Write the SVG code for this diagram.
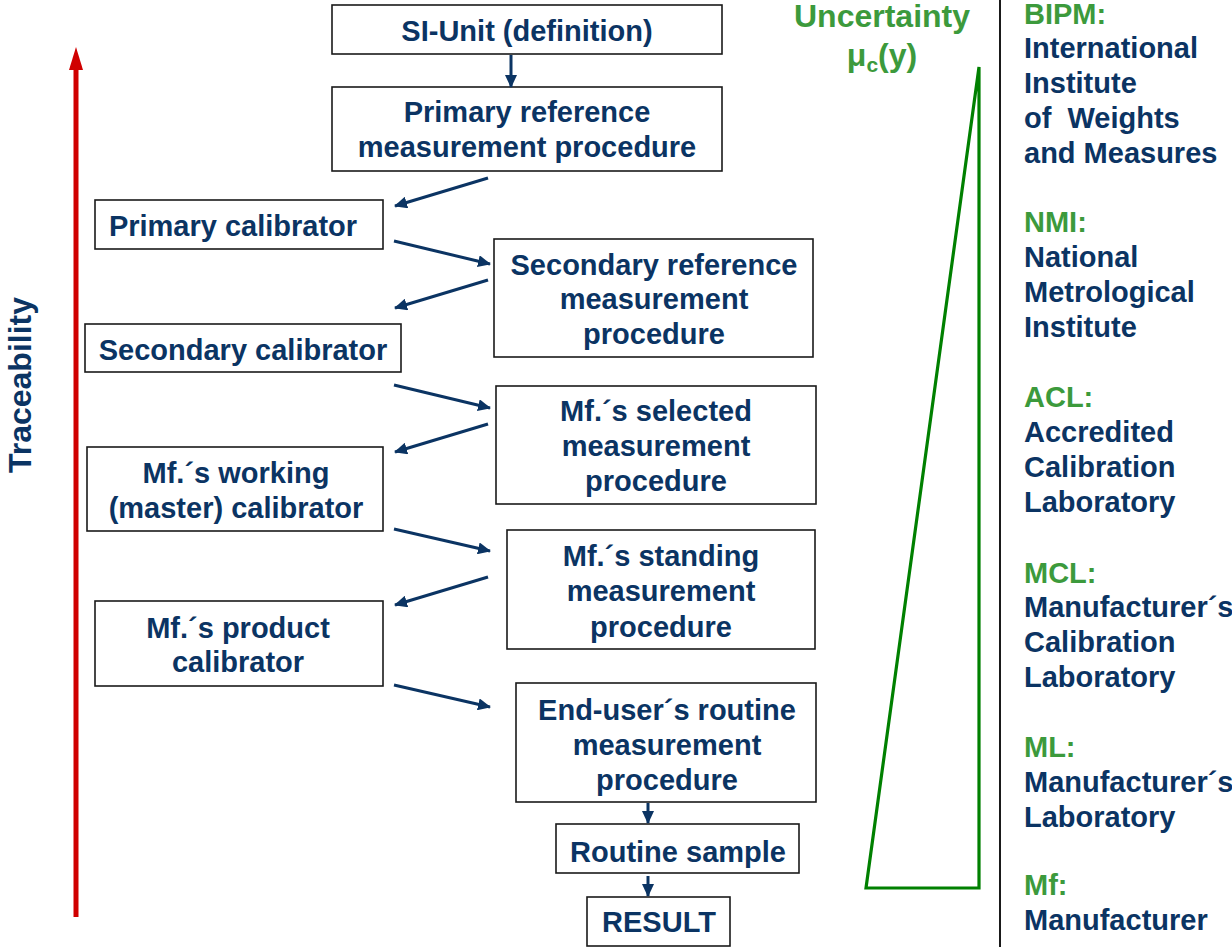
<svg xmlns="http://www.w3.org/2000/svg" width="1232" height="947" viewBox="0 0 1232 947">
<style>
.box{fill:#fff;stroke:#1a1a1a;stroke-width:1.6}
.t{font-family:"Liberation Sans",Arial,sans-serif;font-weight:bold;font-size:29px;fill:#0b3463;text-anchor:middle}
.r{font-family:"Liberation Sans",Arial,sans-serif;font-weight:bold;font-size:29px;fill:#0b3463}
.g{fill:#3c9a3c}
.c{stroke:#0b3463;stroke-width:3;fill:none;marker-end:url(#ah)}
</style>
<defs>
<marker id="ah" markerUnits="userSpaceOnUse" markerWidth="14" markerHeight="12" refX="12" refY="6" orient="auto">
<path d="M0,0 L13,6 L0,12 Z" fill="#0b3463"/>
</marker>
</defs>
<rect width="1232" height="947" fill="#fff"/>

<g id="traceability">
<line x1="76" y1="917" x2="76" y2="66" stroke="#d00000" stroke-width="5"/>
<polygon points="76,47 69,70 83,70" fill="#d00000"/>
<text transform="translate(31,385) rotate(-90)" class="t" style="font-size:32px">Traceability</text>
</g>

<g id="n-si"><rect class="box" x="332" y="5" width="390" height="49"/><text class="t" x="527" y="41">SI-Unit (definition)</text></g>
<g id="n-prm"><rect class="box" x="332" y="87" width="390" height="84"/><text class="t" x="527" y="122">Primary reference</text><text class="t" x="527" y="157">measurement procedure</text></g>
<g id="n-pcal"><rect class="box" x="95" y="200" width="288" height="49"/><text class="t" x="233" y="236">Primary calibrator</text></g>
<g id="n-srm"><rect class="box" x="494" y="239" width="319" height="118"/><text class="t" x="654" y="275">Secondary reference</text><text class="t" x="654" y="309">measurement</text><text class="t" x="654" y="344">procedure</text></g>
<g id="n-scal"><rect class="box" x="85" y="324" width="316" height="48"/><text class="t" x="243" y="360">Secondary calibrator</text></g>
<g id="n-sel"><rect class="box" x="496" y="386" width="320" height="118"/><text class="t" x="656" y="421">Mf.´s selected</text><text class="t" x="656" y="456">measurement</text><text class="t" x="656" y="491">procedure</text></g>
<g id="n-work"><rect class="box" x="87" y="447" width="296" height="84"/><text class="t" x="236" y="483">Mf.´s working</text><text class="t" x="236" y="518">(master) calibrator</text></g>
<g id="n-stand"><rect class="box" x="507" y="530" width="308" height="119"/><text class="t" x="661" y="566">Mf.´s standing</text><text class="t" x="661" y="601">measurement</text><text class="t" x="661" y="637">procedure</text></g>
<g id="n-prod"><rect class="box" x="95" y="601" width="288" height="85"/><text class="t" x="238" y="638">Mf.´s product</text><text class="t" x="238" y="672">calibrator</text></g>
<g id="n-end"><rect class="box" x="516" y="683" width="300" height="119"/><text class="t" x="667" y="720">End-user´s routine</text><text class="t" x="667" y="755">measurement</text><text class="t" x="667" y="790">procedure</text></g>
<g id="n-rs"><rect class="box" x="556" y="824" width="243" height="49"/><text class="t" x="678" y="862">Routine sample</text></g>
<g id="n-res"><rect class="box" x="587" y="897" width="143" height="49"/><text class="t" x="659" y="932">RESULT</text></g>

<g id="connectors">
<line class="c" x1="511" y1="55" x2="511" y2="87"/>
<line class="c" x1="488" y1="178" x2="395" y2="206"/>
<line class="c" x1="394" y1="241" x2="490" y2="264"/>
<line class="c" x1="488" y1="280" x2="395" y2="308"/>
<line class="c" x1="394" y1="385" x2="490" y2="408"/>
<line class="c" x1="488" y1="424" x2="395" y2="452"/>
<line class="c" x1="394" y1="529" x2="490" y2="551"/>
<line class="c" x1="488" y1="577" x2="395" y2="605"/>
<line class="c" x1="394" y1="685" x2="490" y2="707"/>
<line class="c" x1="648" y1="803" x2="648" y2="823"/>
<line class="c" x1="648" y1="876" x2="648" y2="896"/>
</g>

<g id="uncertainty">
<text class="t g" x="882" y="27" style="font-size:32px">Uncertainty</text>
<text class="t g" x="882" y="66" style="font-size:32px">μ<tspan dy="6" style="font-size:21px">c</tspan><tspan dy="-6">(y)</tspan></text>
<polygon points="979,67 979,888 866,888" fill="none" stroke="#008000" stroke-width="3.2" stroke-linejoin="miter"/>
</g>

<line id="divider" x1="1000" y1="0" x2="1000" y2="947" stroke="#1a1a1a" stroke-width="2"/>

<g id="legend">
<text class="r g" x="1024" y="24">BIPM:</text>
<text class="r" x="1024" y="58">International</text>
<text class="r" x="1024" y="93">Institute</text>
<text class="r" x="1024" y="128" xml:space="preserve">of  Weights</text>
<text class="r" x="1024" y="163">and Measures</text>
<text class="r g" x="1024" y="232">NMI:</text>
<text class="r" x="1024" y="267">National</text>
<text class="r" x="1024" y="302">Metrological</text>
<text class="r" x="1024" y="337">Institute</text>
<text class="r g" x="1024" y="407">ACL:</text>
<text class="r" x="1024" y="442">Accredited</text>
<text class="r" x="1024" y="477">Calibration</text>
<text class="r" x="1024" y="512">Laboratory</text>
<text class="r g" x="1024" y="583">MCL:</text>
<text class="r" x="1024" y="617">Manufacturer´s</text>
<text class="r" x="1024" y="652">Calibration</text>
<text class="r" x="1024" y="687">Laboratory</text>
<text class="r g" x="1024" y="757">ML:</text>
<text class="r" x="1024" y="792">Manufacturer´s</text>
<text class="r" x="1024" y="827">Laboratory</text>
<text class="r g" x="1024" y="895">Mf:</text>
<text class="r" x="1024" y="930">Manufacturer</text>
</g>
</svg>
